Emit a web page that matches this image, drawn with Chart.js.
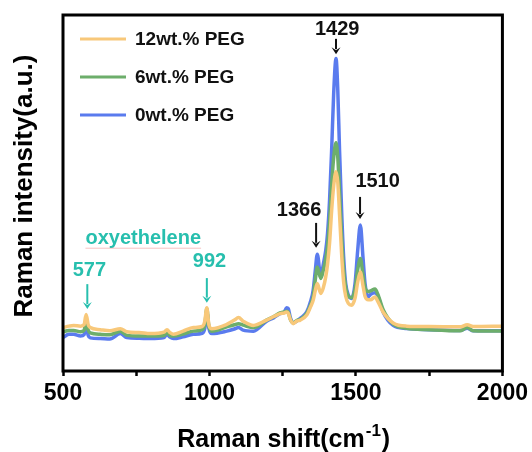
<!DOCTYPE html>
<html>
<head>
<meta charset="utf-8">
<script src="https://cdn.jsdelivr.net/npm/chart.js@4"></script>
<style>
  body { margin: 0; background: #fff; }
  canvas { display: block; }
</style>
</head>
<body>
<canvas id="ramanChart" width="532" height="452"></canvas>
<script>
// Raman shift (cm-1) sample points
let shift = [500, 520, 536, 560, 572, 579, 586, 593, 627, 660, 696, 718, 760, 798, 845, 855, 865, 877, 910, 945,
  975, 984, 991, 998, 1008, 1059, 1085, 1099, 1115, 1150, 1195,
  1220, 1241, 1255, 1263, 1269, 1276, 1286, 1298, 1310,
  1332, 1345, 1354, 1361, 1368, 1380, 1389, 1397, 1403, 1410, 1417, 1424, 1432, 1438, 1444,
  1451, 1458, 1465, 1474, 1485, 1497, 1506, 1515, 1524, 1531, 1542,
  1550, 1565, 1575, 1593, 1627, 1673, 1750, 1855, 1880, 1900, 2000];

let peg12 = [12.2, 12.6, 12.8, 12.6, 13.0, 15.9, 13.0, 12.2, 11.6, 11.3, 11.9, 11.0, 10.8, 10.5, 10.9, 11.6, 10.8, 10.3, 11.2, 12.2,
  12.5, 14.0, 17.8, 13.0, 11.9, 13.1, 14.3, 15.0, 14.0, 12.8, 14.3,
  15.3, 16.1, 16.3, 16.6, 16.2, 14.5, 13.3, 14.0, 14.3,
  15.7, 18.0, 19.9, 22.5, 24.6, 21.8, 23.5, 26.5, 30.0, 36.0, 45.0, 52.0, 56.0, 53.0, 44.0,
  33.0, 25.0, 21.0, 19.0, 18.5, 20.5, 25.0, 27.8, 24.0, 21.0, 20.0,
  20.0, 20.8, 19.5, 16.5, 13.5, 12.6, 12.5, 12.4, 13.0, 12.5, 12.6];

let peg6 = [11.0, 11.4, 11.4, 11.0, 11.4, 14.4, 11.5, 10.7, 10.3, 10.2, 11.2, 10.0, 9.8, 9.8, 10.0, 10.8, 10.0, 9.8, 10.4, 11.2,
  11.6, 13.0, 17.5, 12.5, 11.2, 12.4, 13.0, 13.3, 12.9, 12.2, 14.3,
  15.3, 16.3, 16.6, 16.8, 16.5, 14.5, 13.5, 14.2, 14.5,
  16.2, 18.5, 21.0, 25.5, 29.2, 26.0, 28.5, 31.5, 35.0, 42.0, 52.0, 60.0, 64.1, 60.0, 50.0,
  38.0, 28.5, 23.5, 21.0, 20.6, 23.0, 28.5, 31.6, 27.0, 23.5, 22.3,
  22.5, 23.0, 21.5, 17.2, 13.2, 12.0, 11.6, 11.3, 12.2, 11.3, 11.2];

let peg0 = [9.4, 10.3, 10.3, 9.8, 10.2, 12.8, 10.0, 9.3, 9.1, 9.0, 10.5, 9.4, 9.2, 9.1, 9.4, 10.3, 9.5, 9.1, 9.6, 10.3,
  10.6, 12.0, 16.6, 12.0, 10.5, 11.2, 11.8, 12.2, 11.5, 11.2, 14.0,
  15.0, 16.1, 16.5, 17.8, 17.5, 15.0, 13.5, 14.0, 14.8,
  16.6, 19.5, 22.7, 28.0, 32.8, 26.4, 30.2, 33.9, 38.6, 48.0, 62.0, 78.0, 87.8, 78.9, 62.0,
  45.2, 32.0, 24.6, 21.3, 20.4, 24.6, 33.9, 41.0, 32.0, 24.6, 20.8,
  21.5, 22.0, 21.0, 16.5, 12.8, 11.9, 11.6, 11.4, 12.0, 11.3, 11.3];

let seriesNames = ["12wt.% PEG", "6wt.% PEG", "0wt.% PEG"];
let seriesColors = ["#F8C87A", "#6DAE6B", "#5A7BEE"];
let xTickLabels = [500, 1000, 1500, 2000];

let peakLabels = ["1429", "1366", "1510", "577", "992"];
let peakX = [1432, 1364, 1514, 583, 991];

const FONT = "'Liberation Sans', Arial, sans-serif";
const TEAL = "#27BFAE";

// label centre (tx, ty) and arrow span (y0 -> y1), in data units
const notes = [
  { text: peakLabels[0], x: peakX[0], tx: 1436, ty: 95.8, y0: 93.3, y1: 89.0, color: "#111" },
  { text: peakLabels[1], x: peakX[1], tx: 1306, ty: 45.2, y0: 41.6, y1: 34.6, color: "#111" },
  { text: peakLabels[2], x: peakX[2], tx: 1574, ty: 53.2, y0: 48.9, y1: 42.7, color: "#111" },
  { text: peakLabels[3], x: peakX[3], tx: 590, ty: 28.3, y0: 24.4, y1: 17.4, color: TEAL },
  { text: peakLabels[4], x: peakX[4], tx: 1000, ty: 30.7, y0: 26.1, y1: 19.2, color: TEAL }
];

function arrow(ctx, x, ya, yb, color) {
  ctx.save();
  ctx.strokeStyle = color;
  ctx.fillStyle = color;
  ctx.lineWidth = 2;
  ctx.beginPath();
  ctx.moveTo(x, ya);
  ctx.lineTo(x, yb - 5);
  ctx.stroke();
  ctx.beginPath();
  ctx.moveTo(x - 4.5, yb - 7);
  ctx.lineTo(x, yb);
  ctx.lineTo(x + 4.5, yb - 7);
  ctx.lineTo(x, yb - 4);
  ctx.closePath();
  ctx.fill();
  ctx.restore();
}

const decorations = {
  id: "decorations",
  afterDatasetsDraw(chart) {
    const ctx = chart.ctx;
    const a = chart.chartArea;
    const xs = chart.scales.x;
    const ys = chart.scales.y;

    // frame
    ctx.save();
    ctx.strokeStyle = "#000";
    ctx.lineWidth = 3;
    ctx.strokeRect(a.left, a.top, a.right - a.left, a.bottom - a.top);
    ctx.restore();

    // legend
    ctx.save();
    ctx.font = "bold 19px " + FONT;
    ctx.textBaseline = "middle";
    ctx.fillStyle = "#111";
    const legY = [39, 77, 115];
    seriesNames.forEach((n, i) => {
      ctx.strokeStyle = seriesColors[i];
      ctx.lineWidth = 3.2;
      ctx.beginPath();
      ctx.moveTo(80, legY[i]);
      ctx.lineTo(126, legY[i]);
      ctx.stroke();
      ctx.fillText(n, 135, legY[i] + 1);
    });
    ctx.restore();

    // peak annotations
    ctx.save();
    ctx.font = "bold 20px " + FONT;
    ctx.textAlign = "center";
    ctx.textBaseline = "middle";
    notes.forEach(n => {
      ctx.fillStyle = n.color;
      ctx.fillText(n.text, xs.getPixelForValue(n.tx), ys.getPixelForValue(n.ty));
      arrow(ctx, xs.getPixelForValue(n.x), ys.getPixelForValue(n.y0), ys.getPixelForValue(n.y1), n.color);
    });

    // oxyethelene label
    const ox = xs.getPixelForValue(774);
    const oy = ys.getPixelForValue(37.3);
    ctx.fillStyle = TEAL;
    ctx.fillText("oxyethelene", ox, oy);
    const w = ctx.measureText("oxyethelene").width;
    ctx.strokeStyle = "rgba(235,120,120,0.45)";
    ctx.lineWidth = 1;
    ctx.beginPath();
    ctx.moveTo(ox - w / 2, oy + 10);
    ctx.lineTo(ox + w / 2, oy + 10);
    ctx.stroke();
    ctx.restore();

    // axis titles
    ctx.save();
    ctx.fillStyle = "#000";
    ctx.font = "bold 26px " + FONT;
    ctx.textAlign = "center";
    ctx.textBaseline = "middle";
    ctx.translate(25, 186);
    ctx.rotate(-Math.PI / 2);
    ctx.fillText("Raman intensity(a.u.)", 0, 0);
    ctx.restore();

    ctx.save();
    ctx.fillStyle = "#000";
    ctx.textBaseline = "alphabetic";
    const big = "bold 25px " + FONT;
    const small = "bold 17px " + FONT;
    ctx.font = big;
    const p1 = "Raman shift(cm", p3 = ")";
    const w1 = ctx.measureText(p1).width, w3 = ctx.measureText(p3).width;
    ctx.font = small;
    const w2 = ctx.measureText("-1").width;
    let sx = (a.left + a.right) / 2 - (w1 + w2 + w3) / 2;
    const base = 447;
    ctx.font = big;
    ctx.fillText(p1, sx, base);
    ctx.font = small;
    ctx.fillText("-1", sx + w1 + 1, base - 11);
    ctx.font = big;
    ctx.fillText(p3, sx + w1 + w2 + 2, base);
    ctx.restore();
  }
};

function pts(ys) {
  return shift.map((x, i) => ({ x: x, y: ys[i] }));
}

new Chart(document.getElementById("ramanChart"), {
  type: "line",
  data: {
    datasets: [peg12, peg6, peg0].map((d, i) => ({
      label: seriesNames[i],
      data: pts(d),
      borderColor: seriesColors[i],
      borderWidth: 3.5,
      pointRadius: 0,
      fill: false,
      cubicInterpolationMode: "monotone"
    }))
  },
  options: {
    responsive: false,
    animation: false,
    layout: { padding: { left: 63, right: 29, top: 15, bottom: 0 } },
    plugins: { legend: { display: false }, tooltip: { enabled: false } },
    scales: {
      x: {
        type: "linear",
        min: 500,
        max: 2000,
        afterFit(scale) { scale.height = 81; },
        border: { display: false },
        grid: { drawOnChartArea: false, drawTicks: true, tickLength: 5, tickWidth: 2.5, tickColor: "#000" },
        ticks: {
          stepSize: 250,
          autoSkip: false,
          maxRotation: 0,
          padding: 4,
          color: "#000",
          font: { size: 23, weight: "bold", family: FONT },
          callback: v => xTickLabels.includes(v) ? String(v) : ""
        }
      },
      y: {
        min: 0,
        max: 100,
        display: false
      }
    }
  },
  plugins: [decorations]
});
</script>
</body>
</html>
